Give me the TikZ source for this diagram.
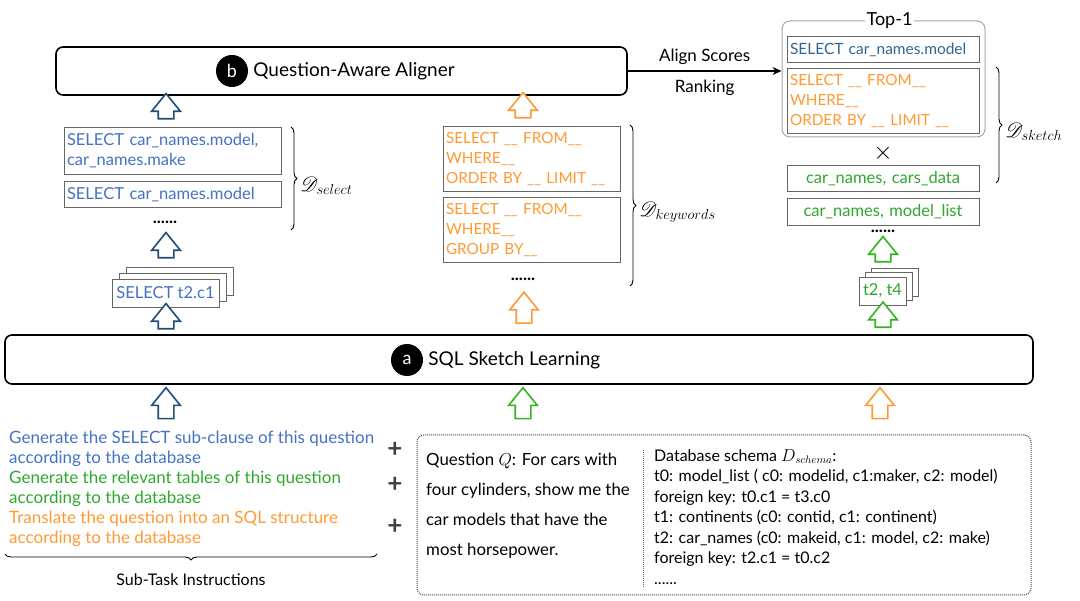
\documentclass[tikz,border=0pt]{standalone}
\usepackage{fontspec}
\usepackage{mathrsfs}
\setmainfont{Lato}
\usetikzlibrary{positioning,shapes.arrows,decorations.pathreplacing,arrows.meta}

\definecolor{selblue}{HTML}{4472C4}
\definecolor{topblue}{HTML}{2F6695}
\definecolor{arrblue}{HTML}{1F4E79}
\definecolor{orng}{HTML}{FF9A33}
\definecolor{grn}{HTML}{2EA82E}
\definecolor{arrgrn}{HTML}{33B51E}
\definecolor{cardgray}{HTML}{666666}

\tikzset{
  stage/.style={draw, line width=1.6pt, rounded corners=7pt},
  badge/.style={circle, fill=black, text=white, minimum size=32pt, inner sep=0pt,
    font=\fontsize{18}{18}\selectfont},
  title/.style={inner sep=0pt, font=\fontsize{19}{19}\selectfont},
  card/.style={draw=cardgray, line width=0.9pt, fill=white, align=left,
    inner xsep=3pt, inner ysep=6pt, font=\fontsize{16.5}{20}\selectfont},
  kwcard/.style={card, text=orng, font=\fontsize{15.3}{20}\selectfont},
  sheet/.style={draw=cardgray, line width=0.9pt, fill=white, inner sep=0pt,
    font=\fontsize{16.5}{20}\selectfont},
  group/.style={draw=gray!70, line width=1pt, rounded corners=8pt},
  hollow/.style={single arrow, draw=#1, line width=1.6pt, fill=white,
    shape border rotate=90, minimum height=24pt, minimum width=28pt,
    single arrow head extend=6.5pt, single arrow tip angle=78, inner sep=7pt},
  dots/.style={inner sep=0pt, font=\fontsize{17}{17}\selectfont\bfseries},
  brace/.style={decorate, decoration={brace, amplitude=6pt}, line width=0.9pt},
  setlab/.style={inner sep=0pt, font=\fontsize{21}{21}\selectfont},
  flow/.style={-{Stealth[length=9pt,width=8pt]}, line width=1.3pt},
  plus/.style={inner sep=0pt, text=black!75, font=\fontsize{26}{26}\selectfont\bfseries},
  ctxbox/.style={draw=black!70, densely dotted, line width=1pt, rounded corners=7pt}
}

\begin{document}
\begin{tikzpicture}[x=1pt,y=-1pt]
\useasboundingbox (0,0) rectangle (1080,601);

% (b) aligner
\node[stage, minimum width=571pt, minimum height=48pt] (align) at (341.5,71) {};
\node[badge] (bB) at (232,71) {b};
\node[title, right=5pt of bB] (alignT) {Question-Aware Aligner};

% (a) sketch learning
\node[stage, minimum width=1028pt, minimum height=49pt] (sketch) at (519,359.5) {};
\node[badge] (bA) at (407,360) {a};
\node[title, right=5pt of bA] (sketchT) {SQL Sketch Learning};

% select column
\node[card, text width=211pt, text=selblue] (sel1) at (172.5,151)
  {SELECT car\_names.model,\\car\_names.make};
\node[card, text width=211pt, text=selblue, below=6pt of sel1] (sel2) {SELECT car\_names.model};
\node[dots] (selDots) at (165,222) {......};
\coordinate (selStk) at (165.5,293);
\foreach \k in {2,1}
  \node[sheet, minimum width=107pt, minimum height=28pt] at ([xshift=7pt*\k, yshift=6pt*\k]selStk) {};
\node[sheet, minimum width=107pt, minimum height=28pt, text=selblue] (selT) at (selStk) {SELECT t2.c1};
\node[hollow=arrblue] (hs1) at (166,111) {};
\node[hollow=arrblue] (hs2) at (166,250) {};
\node[hollow=arrblue, minimum height=23pt] (hs3) at (166,321) {};
\draw[brace] (291,127) -- (291,230) node[setlab, midway, right=9pt, yshift=-7pt] {$\mathscr{D}_{select}$};

% keywords column
\node[kwcard, text width=171pt] (kw1) at (531.5,159)
  {SELECT \_\_ FROM\_\_\\WHERE\_\_\\ORDER BY \_\_ LIMIT \_\_};
\node[kwcard, text width=171pt, below=5pt of kw1] (kw2)
  {SELECT \_\_ FROM\_\_\\WHERE\_\_\\GROUP BY\_\_};
\node[dots] (kwDots) at (523,279) {......};
\node[hollow=orng] (hk1) at (523,110) {};
\node[hollow=orng, minimum height=31pt] (hk2) at (524,312.5) {};
\draw[brace] (630,125) -- (630,286) node[setlab, midway, right=9pt, yshift=-7pt] {$\mathscr{D}_{keywords}$};

% top-1 sketch
\node[group, minimum width=203pt, minimum height=116pt] (top) at (883.5,79) {};
\node[fill=white, inner sep=2pt, font=\fontsize{18}{18}\selectfont] (topL) at ([xshift=6pt]top.north) {Top-1};
\node[card, text width=186pt, text=topblue, font=\fontsize{15.5}{20}\selectfont] (t1sel) at (883,49.5) {SELECT car\_names.model};
\node[kwcard, text width=186pt, below=5pt of t1sel] (t1kw)
  {SELECT \_\_ FROM\_\_\\WHERE\_\_\\ORDER BY \_\_ LIMIT \_\_};
\node[inner sep=0pt, font=\fontsize{24}{24}\selectfont] (times) at (883,153) {$\times$};
\node[card, text width=186pt, align=center, text=grn] (tab1) at (883,178.5) {car\_names, cars\_data};
\node[card, text width=186pt, align=center, text=grn, below=6pt of tab1] (tab2) {car\_names, model\_list};
\node[dots] (tabDots) at (883,231) {......};
\coordinate (tabStk) at (882.5,291);
\foreach \k in {2,1}
  \node[sheet, minimum width=47pt, minimum height=28pt] at ([xshift=6pt*\k, yshift=4.5pt*\k]tabStk) {};
\node[sheet, minimum width=47pt, minimum height=28pt, text=grn] (tabT) at (tabStk) {t2, t4};
\node[hollow=arrgrn] (ht1) at (883,254) {};
\node[hollow=arrgrn, minimum height=25pt] (ht2) at (883,319.5) {};
\draw[brace] (996,67) -- (996,183) node[setlab, midway, right=9pt, yshift=-7pt] {$\mathscr{D}_{sketch}$};

\draw[flow] (align.east) -- (align.east -| top.west)
  node[midway, above=2pt, font=\fontsize{17}{17}\selectfont] (alS) {Align Scores}
  node[midway, below=5pt, font=\fontsize{17}{17}\selectfont] (alR) {Ranking};

% inputs
\node[hollow=arrblue, minimum height=31pt] (hi1) at (166,408) {};
\node[hollow=arrgrn, minimum height=31pt] (hi2) at (523,408) {};
\node[hollow=orng, minimum height=31pt] (hi3) at (880,408) {};

\node[anchor=north west, align=left, inner sep=0pt, font=\fontsize{17}{20}\selectfont] (inst) at (9,431)
  {\textcolor{selblue}{Generate the SELECT sub-clause of this question}\\
   \textcolor{selblue}{according to the database}\\
   \textcolor{grn}{Generate the relevant tables of this question}\\
   \textcolor{grn}{according to the database}\\
   \textcolor{orng}{Translate the question into an SQL structure}\\
   \textcolor{orng}{according to the database}};
\node[plus] (p1) at (395,450) {+};
\node[plus] (p2) at (395,485) {+};
\node[plus] (p3) at (395,527) {+};
\draw[brace] (377,554) -- (5,554) node[midway, below=16pt, font=\fontsize{16}{16}\selectfont] (instL) {Sub-Task Instructions};

\node[ctxbox, minimum width=614pt, minimum height=160pt] (ctx) at (724,515) {};
\draw[black!60, densely dotted, line width=1pt] (643,450) -- (643,587);
\node[anchor=north west, align=left, inner sep=0pt, font=\fontsize{16.8}{30}\selectfont] (quest) at (426,453)
  {Question $Q$: For cars with\\four cylinders, show me the\\car models that have the\\most horsepower.};
\node[anchor=north west, align=left, inner sep=0pt, font=\fontsize{16}{20.5}\selectfont] (schema) at (654,449)
  {Database schema $D_{schema}$:\\
   t0: model\_list ( c0: modelid, c1:maker, c2: model)\\
   foreign key: t0.c1 = t3.c0\\
   t1: continents (c0: contid, c1: continent)\\
   t2: car\_names (c0: makeid, c1: model, c2: make)\\
   foreign key: t2.c1 = t0.c2\\
   ......};
\end{tikzpicture}
\end{document}
